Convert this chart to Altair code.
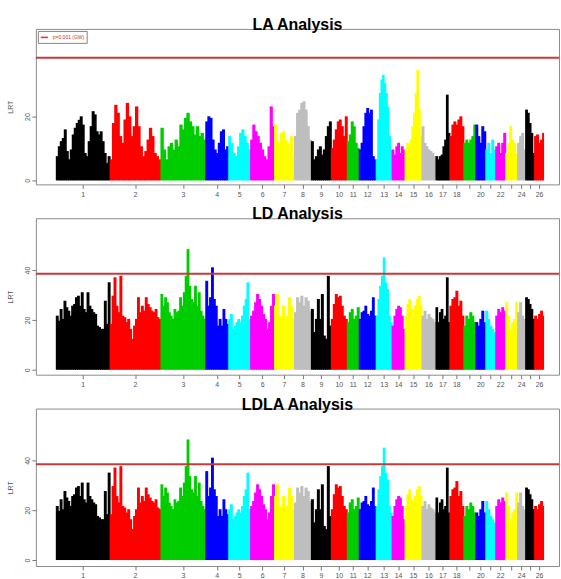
import altair as alt
import pandas as pd

# ---------------- data ----------------
CHROMS = [str(i) for i in range(1, 27)]
# labels printed under the axis (R drops the crowded ones)
SHOWN = ["1", "2", "3", "4", "5", "6", "7", "8", "9", "10", "11", "12", "13",
         "14", "15", "16", "17", "18", "20", "22", "24", "26"]
# relative chromosome lengths
CHROM_SIZE = [54, 51, 45, 23, 22, 24, 20, 17, 20, 16, 12, 17, 16, 13, 17, 14,
              14, 14, 12, 10, 10, 10, 12, 8, 9, 10]
PALETTE = ["#000000", "#FF0000", "#00CD00", "#0000FF",
           "#00FFFF", "#FF00FF", "#FFFF00", "#BEBEBE"]
THRESHOLD = 38.5
THRESH_LABEL = "p=0.001 (GW)"

LA = [
    [7.6, 10.7, 12.3, 13.3, 16, 9.2, 6.6, 9.7, 14.4, 16.5, 18, 19, 20.1, 17.5, 8.6, 7.6,
     12.3, 17, 21.7, 20.7, 15.4, 14.4, 15.4, 12.3, 8.6, 5.5, 7.6],
    [6.6, 18, 23.7, 21.2, 13.9, 11.8, 19.1, 24.3, 20.1, 13.9, 17, 23.2, 17, 10.7, 7.6,
     9.2, 12.8, 16.5, 13.9, 8.6, 7.6, 6.6],
    [16.5, 9.7, 6.6, 10.7, 11.8, 9.7, 12.8, 10.7, 17.5, 16, 19.6, 21.2, 18.5, 17, 14.4,
     17, 13.9, 14.9, 12.8],
    [18.5, 20.1, 19.6, 12.8, 9.7, 8.6, 11.8, 15.4, 16, 9.7, 10.7],
    [13.9, 11.8, 8.6, 7.6, 10.7, 14.9, 16, 13.9, 11.8, 9.7],
    [12.8, 17.5, 15.4, 13.9, 11.8, 9.7, 7.6, 6.6, 10.7, 23.2, 17],
    [17.5, 12.3, 10.7, 14.9, 15.4, 12.8, 11.8, 7.6, 13.9, 7.6],
    [13.9, 21.2, 22.2, 24.3, 24.8, 22.2, 17, 12.8],
    [12.3, 6.6, 7.6, 9.7, 10.7, 8.1, 9.7, 13.9, 17, 18.5],
    [10.2, 12.8, 16, 18.5, 19.1, 17, 13.9, 20.1],
    [12.3, 14.4, 18.5, 17, 11.8, 10.2],
    [9.7, 11.8, 17, 21.2, 22.7, 21.2, 22.2, 7.6, 6.6],
    [6.6, 19.1, 27.4, 31.6, 33.1, 30.5, 27.4, 23.2, 13.9, 9.7],
    [9.7, 8.1, 10.7, 11.8, 8.6, 10.7, 9.7],
    [9.7, 11.8, 10.7, 12.8, 17, 21.2, 27.4, 34.7, 22.2, 13.9],
    [17, 11.8, 10.7, 9.7, 9.2, 8.6, 7.6],
    [7.6, 6.6, 7.6, 8.1, 10.7, 12.8, 26.9, 14.9],
    [13.9, 17.5, 18.5, 17.5, 19.1, 20.1, 17],
    [11.8, 12.8, 11.8, 12.8, 13.9, 17.5],
    [17.5, 13.9, 11.8, 17, 15.4],
    [9.7, 11.8, 8.6, 12.8, 9.7],
    [10.7, 11.8, 8.6, 11.8, 14.9],
    [8.6, 11.8, 17, 12.8, 11.8, 8.6],
    [11.8, 13.9, 14.9, 9.7],
    [22.2, 21.2, 18, 14.9, 8.6],
    [13.9, 14.4, 11.8, 12.8, 14.9],
]

LD = [
    [21.7, 19.7, 24.4, 20.4, 27.7, 25.1, 23.7, 21.7, 25.7, 26.4, 29.1, 29.7, 25.7, 31.1,
     24.4, 23.1, 31.1, 25.7, 24.4, 23.1, 22.4, 17.7, 17.1, 16.4, 16.4, 27.7, 18.4, 35.1],
    [18.4, 29.7, 37.1, 25.7, 23.1, 37.7, 21.7, 21.1, 19.1, 20.4, 16.4, 12.4, 17.7, 20.4,
     29.1, 23.1, 25.7, 23.7, 29.1, 26.4, 25.1, 23.7, 23.1, 24.4, 21.1, 20.4],
    [30.4, 25.7, 29.1, 27.1, 23.1, 21.7, 20.4, 24.4, 23.1, 23.7, 29.1, 25.7, 31.1, 37.7,
     48.4, 33.7, 28.4, 27.1, 33.7, 25.7, 31.1, 23.7, 21.7, 20.4],
    [35.7, 25.7, 29.1, 41.1, 28.4, 25.7, 17.7, 20.4, 17.7, 24.4, 20.4, 18.4],
    [20.4, 22.4, 16.4, 17.7, 19.1, 20.4, 19.1, 21.7, 25.7, 28.4, 35.1, 20.4],
    [21.7, 23.7, 27.1, 30.4, 28.4, 25.7, 22.4, 20.4, 16.4, 19.1, 25.7, 30.4],
    [25.7, 30.4, 21.7, 21.1, 25.7, 20.4, 21.7, 29.1, 25.7, 20.4],
    [23.1, 29.1, 27.1, 29.7, 25.7, 29.1, 27.7, 23.7],
    [24.4, 15.1, 20.4, 28.4, 20.4, 30.4, 13.7, 12.4, 37.7, 17.7],
    [20.4, 26.4, 30.4, 29.1, 29.7, 25.7, 21.7, 20.4],
    [19.1, 23.1, 24.4, 20.4, 21.7, 25.1],
    [20.4, 23.1, 23.7, 25.7, 22.4, 21.7, 23.7, 29.1, 21.7],
    [21.7, 28.4, 33.7, 37.7, 45.1, 35.1, 32.4, 21.7, 19.1],
    [17.7, 21.7, 24.4, 25.7, 25.1, 21.7, 16.4],
    [21.7, 26.4, 28.4, 24.4, 20.4, 25.7, 28.4, 29.7, 25.7],
    [21.7, 23.7, 20.4, 22.4, 21.1, 20.4, 19.1],
    [25.1, 19.1, 23.1, 24.4, 20.4, 21.7, 37.1, 19.1],
    [25.7, 28.4, 29.1, 31.7, 25.7, 27.7, 21.7],
    [17.7, 21.7, 20.4, 23.1, 21.7, 19.1],
    [19.1, 17.7, 20.4, 23.7, 19.1],
    [23.7, 20.4, 17.7, 16.4, 15.1],
    [21.7, 24.4, 23.1, 25.1, 23.7],
    [27.1, 21.7, 16.4, 19.1, 20.4, 27.1],
    [23.1, 27.1, 21.7, 20.4],
    [29.1, 28.4, 26.4, 24.4, 20.4],
    [21.7, 20.4, 22.4, 23.7, 21.7],
]

# LDLA profile is visually the same as LD
LDLA = [list(c) for c in LD]

RED = "#c83a3a"
FONT = "Liberation Sans"

# ---------------- layout helpers ----------------
starts = []
acc = 0
for s in CHROM_SIZE:
    starts.append(acc)
    acc += s
mids = [st + s / 2 for st, s in zip(starts, CHROM_SIZE)]
tick_labels = [c if c in SHOWN else "" for c in CHROMS]
label_expr = "[{}][indexof([{}], datum.value)]".format(
    ",".join("'%s'" % t for t in tick_labels), ",".join(repr(m) for m in mids))


def bars_frame(series):
    rows = []
    for ci, vals in enumerate(series):
        w = CHROM_SIZE[ci] / len(vals)
        last = len(vals) - 1
        for i, v in enumerate(vals):
            x0 = starts[ci] + i * w
            # overlap neighbours by one unit so antialiased seams do not show
            x1 = x0 + w + (1.0 if (i < last or ci < len(series) - 1) else 0.0)
            rows.append({"x0": x0, "x1": x1, "lrt": v,
                         "col": PALETTE[ci % 8], "chrom": CHROMS[ci]})
    return pd.DataFrame(rows)


XDOM = [-20, 505]


def panel(name, series, ydom, yticks, height):
    df = bars_frame(series)
    xaxis = alt.Axis(values=mids, labelExpr=label_expr, title=None, grid=False,
                     domain=False, labelFontSize=7, labelColor="#555555",
                     labelFont=FONT, tickColor="#777777", tickSize=4,
                     labelPadding=2, labelOverlap=False, labelFlush=False,
                     labelAngle=0)
    yaxis = alt.Axis(values=yticks, title="LRT", grid=False, domain=False,
                     labelAngle=270, labelAlign="center", labelBaseline="bottom",
                     labelFontSize=7, labelColor="#555555", labelFont=FONT,
                     labelPadding=1, tickSize=4, tickColor="#777777",
                     titleFontSize=7, titleFontWeight="normal", titleColor="#555555",
                     titleFont=FONT, titlePadding=10)
    bars = alt.Chart(df).mark_rect(strokeWidth=0).encode(
        x=alt.X("x0:Q", scale=alt.Scale(domain=XDOM, nice=False, zero=False), axis=xaxis),
        x2="x1:Q",
        y=alt.Y("lrt:Q", scale=alt.Scale(domain=ydom, nice=False, zero=False), axis=yaxis),
        y2=alt.datum(0),
        fill=alt.Fill("col:N", scale=None),
    )
    thr = alt.Chart(pd.DataFrame({"t": [THRESHOLD], "lab": [THRESH_LABEL]})).mark_rule(
        strokeWidth=2).encode(
        y=alt.Y("t:Q", axis=yaxis),
        stroke=alt.Stroke("lab:N", scale=alt.Scale(range=[RED]),
                          legend=alt.Legend(title=None, orient="top-left", offset=2,
                                            padding=2, strokeColor="#a07a7a",
                                            fillColor="white",
                                            symbolType="stroke", symbolStrokeWidth=1.5,
                                            symbolSize=50, labelFontSize=5,
                                            labelColor=RED, labelFont=FONT,
                                            labelOffset=4)),
    )
    return alt.layer(bars, thr).properties(
        width=525, height=height,
        title=alt.Title(name, fontSize=16, fontWeight="bold", font=FONT,
                        anchor="middle", offset=-4, color="#000000"))


p1 = panel("LA Analysis", LA, [-1.25, 47.5], [0, 20], 156)
p2 = panel("LD Analysis", LD, [-2.0, 60.8], [0, 20, 40], 157)
p3 = panel("LDLA Analysis", LDLA, [-2.4, 60.8], [0, 20, 40], 158)

chart = alt.vconcat(p1, p2, p3, spacing=34, bounds="flush").configure_view(
    stroke="#8c8c8c", strokeWidth=1).properties(
    padding={"left": 6, "top": 15, "right": 0, "bottom": 0},
    background="white")

chart.save("out.html", embed_options={"renderer": "svg", "actions": False})
